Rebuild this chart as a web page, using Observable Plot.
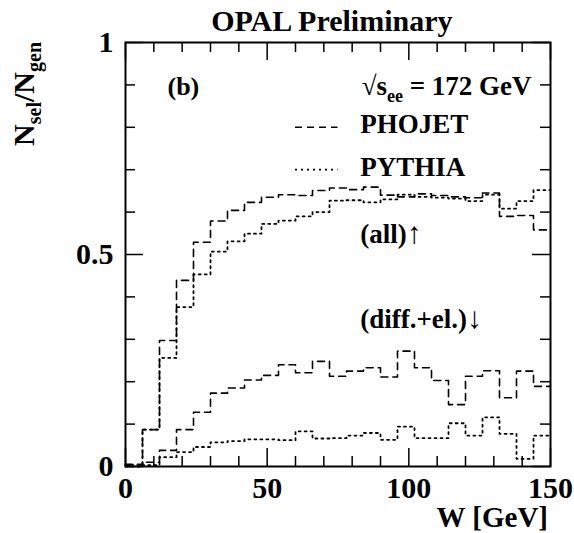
<!DOCTYPE html>
<html>
<head>
<meta charset="utf-8">
<script src="https://cdn.jsdelivr.net/npm/d3@7"></script>
<script src="https://cdn.jsdelivr.net/npm/@observablehq/plot@0.6"></script>
<style>
  html, body { margin: 0; padding: 0; background: white; }
</style>
</head>
<body>
<div id="chart"></div>
<script>
// Bin edges of W [GeV] (25 bins of 6 GeV, last edge 150)
const wEdges = [0,6,12,18,24,30,36,42,48,54,60,66,72,78,84,90,96,102,108,114,120,126,132,138,144,150];

// N_sel/N_gen per bin
const phojetAll = [0.005,0.087,0.297,0.439,0.529,0.579,0.604,0.623,0.635,0.641,0.639,0.651,0.657,0.653,0.659,0.640,0.636,0.643,0.639,0.636,0.634,0.645,0.590,0.592,0.558];
const pythiaAll = [0.003,0.087,0.256,0.376,0.453,0.507,0.531,0.549,0.572,0.580,0.590,0.600,0.627,0.628,0.623,0.630,0.641,0.636,0.634,0.632,0.626,0.641,0.608,0.626,0.652];
const phojetDiff = [0.003,0.010,0.038,0.087,0.128,0.173,0.185,0.204,0.215,0.240,0.221,0.248,0.213,0.225,0.233,0.211,0.272,0.233,0.203,0.146,0.213,0.226,0.162,0.225,0.189];
const pythiaDiff = [0.000,0.003,0.022,0.034,0.046,0.057,0.060,0.064,0.064,0.062,0.083,0.066,0.067,0.073,0.079,0.063,0.094,0.067,0.067,0.102,0.073,0.116,0.077,0.018,0.073];

// Axis ticks
const xMajor = [0, 50, 100, 150];
const xMinor = [10,20,30,40,60,70,80,90,110,120,130,140];
const yMajor = [0, 0.5, 1];
const yMinor = [0.1,0.2,0.3,0.4,0.6,0.7,0.8,0.9];
const xTickLabels = ["0", "50", "100", "150"];
const yTickLabels = ["0", "0.5", "1"];

const W = 574, H = 533;
const mL = 125, mR = 24, mT = 42, mB = 67;
const pw = W - mL - mR, ph = H - mT - mB;
const majorLen = 18, minorLen = 10;

function steps(vals, series) {
  const rows = vals.map((v, i) => ({w: wEdges[i], v, series}));
  rows.push({w: wEdges[wEdges.length - 1], v: vals[vals.length - 1], series});
  return rows;
}
const dashedRows = [...steps(phojetAll, "PHOJET all"), ...steps(phojetDiff, "PHOJET diff")];
const dottedRows = [...steps(pythiaAll, "PYTHIA all"), ...steps(pythiaDiff, "PYTHIA diff")];

const FONT = "'Liberation Serif', 'Times New Roman', Times, serif";
const dashPattern = "7,5";
const dotPattern = "2,4";

const chart = Plot.plot({
  width: W, height: H,
  marginLeft: mL, marginRight: mR, marginTop: mT, marginBottom: mB,
  style: {fontFamily: FONT, fontWeight: "bold", background: "white", color: "black", overflow: "visible"},
  x: {domain: [0, 150]},
  y: {domain: [0, 1]},
  marks: [
    // ticks, inward, on all four sides
    Plot.tickX(xMajor, {x: d => d, insetTop: ph - majorLen, strokeWidth: 1.5}),
    Plot.tickX(xMinor, {x: d => d, insetTop: ph - minorLen, strokeWidth: 1.5}),
    Plot.tickX(xMajor, {x: d => d, insetBottom: ph - majorLen, strokeWidth: 1.5}),
    Plot.tickX(xMinor, {x: d => d, insetBottom: ph - minorLen, strokeWidth: 1.5}),
    Plot.tickY(yMajor, {y: d => d, insetRight: pw - majorLen, strokeWidth: 1.5}),
    Plot.tickY(yMinor, {y: d => d, insetRight: pw - minorLen, strokeWidth: 1.5}),
    Plot.tickY(yMajor, {y: d => d, insetLeft: pw - majorLen, strokeWidth: 1.5}),
    Plot.tickY(yMinor, {y: d => d, insetLeft: pw - minorLen, strokeWidth: 1.5}),
    // tick labels
    Plot.axisX(xMajor, {anchor: "bottom", tickSize: 0, tickPadding: 10, fontSize: 30, label: null,
      tickFormat: (d) => xTickLabels[xMajor.indexOf(d)]}),
    Plot.axisY(yMajor, {anchor: "left", tickSize: 0, tickPadding: 12, fontSize: 30, label: null,
      tickFormat: (d) => yTickLabels[yMajor.indexOf(d)]}),
    // histograms
    Plot.line(dashedRows, {x: "w", y: "v", z: "series", curve: "step-after", stroke: "black", strokeWidth: 1.6, strokeDasharray: dashPattern}),
    Plot.line(dottedRows, {x: "w", y: "v", z: "series", curve: "step-after", stroke: "black", strokeWidth: 1.8, strokeDasharray: dotPattern}),
    // legend samples
    Plot.ruleY([0.80], {x1: 60, x2: 75, stroke: "black", strokeWidth: 1.6, strokeDasharray: dashPattern}),
    Plot.ruleY([0.70], {x1: 60, x2: 75, stroke: "black", strokeWidth: 1.8, strokeDasharray: dotPattern}),
    Plot.frame({stroke: "black", strokeWidth: 2})
  ]
});

document.getElementById("chart").appendChild(chart);

const sx = chart.scale("x"), sy = chart.scale("y");
const svg = d3.select(chart);

function richText(x, y, parts, opts = {}) {
  const t = svg.append("text")
    .attr("x", x).attr("y", y)
    .attr("font-family", FONT)
    .attr("font-weight", "bold")
    .attr("font-size", opts.size || 26)
    .attr("text-anchor", opts.anchor || "start")
    .attr("fill", "black");
  if (opts.transform) t.attr("transform", opts.transform);
  for (const p of parts) {
    const s = t.append("tspan").text(p.text);
    if (p.size) s.attr("font-size", p.size);
    if (p.dy) s.attr("dy", p.dy);
    if (p.weight) s.attr("font-weight", p.weight);
  }
  return t;
}

// Title
richText(sx.apply(73), 31, [{text: "OPAL Preliminary"}], {size: 30, anchor: "middle"});

// x-axis title
richText(sx.apply(150) - 2, 527, [{text: "W [GeV]"}], {size: 29, anchor: "end"});

// y-axis title (rotated), right-aligned to top of axis
{
  const x0 = 34, y0 = sy.apply(1);
  richText(0, 0, [
    {text: "N"},
    {text: "sel", size: 20, dy: 7},
    {text: "/N", dy: -7},
    {text: "gen", size: 20, dy: 7}
  ], {size: 30, anchor: "end", transform: `translate(${x0},${y0}) rotate(-90)`});
}

// annotations
richText(sx.apply(15), sy.apply(0.875), [{text: "(b)"}], {size: 26});
richText(sx.apply(143.5), sy.apply(0.875), [
  {text: "√s"},
  {text: "ee", size: 18, dy: 7},
  {text: " = 172 GeV", dy: -7}
], {size: 27, anchor: "end"});
richText(sx.apply(83), sy.apply(0.785), [{text: "PHOJET"}], {size: 27});
richText(sx.apply(83), sy.apply(0.685), [{text: "PYTHIA"}], {size: 27});
richText(sx.apply(83), sy.apply(0.525), [{text: "(all)"}, {text: "↑", weight: "normal", size: 30}], {size: 27});
richText(sx.apply(83), sy.apply(0.325), [{text: "(diff.+el.)"}, {text: "↓", weight: "normal", size: 30}], {size: 27});
</script>
</body>
</html>
